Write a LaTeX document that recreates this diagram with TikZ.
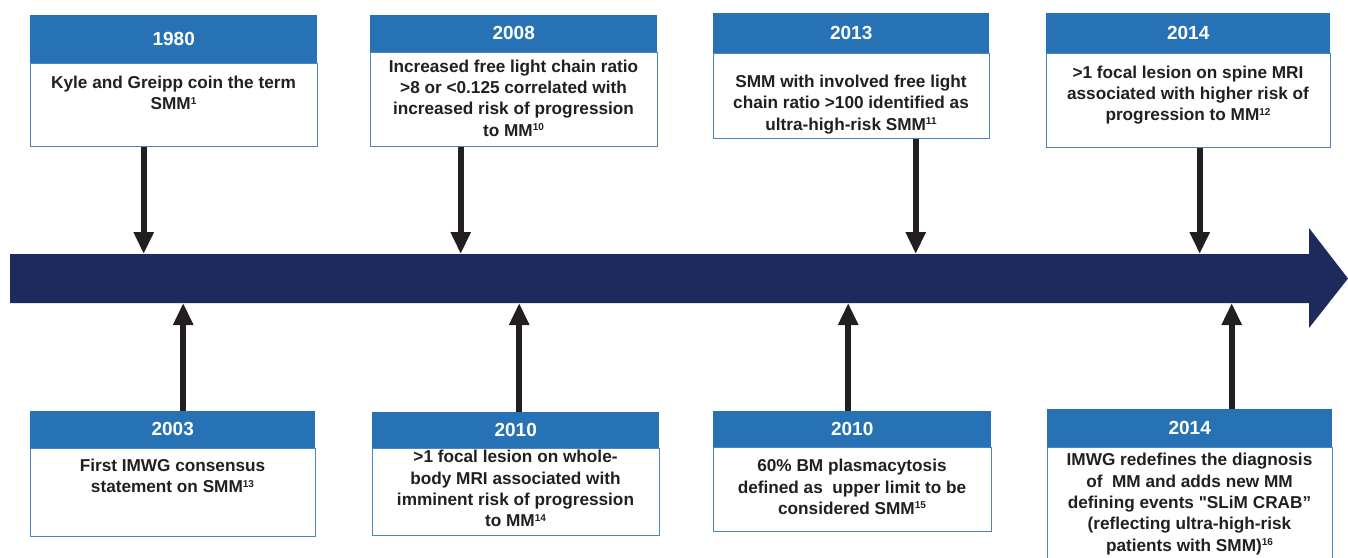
\documentclass[tikz,border=0pt]{standalone}
\usepackage{fontspec}
\setmainfont{Liberation Sans}
\usetikzlibrary{arrows.meta,positioning}
\newcommand{\yearfont}{\fontsize{19}{22}\selectfont\bfseries}
\newcommand{\bodyfont}{\fontsize{17.2}{21.3}\selectfont\bfseries}
\newcommand{\sref}[1]{\raisebox{5.5pt}{\fontsize{10}{10}\selectfont #1}}

\begin{document}
\begin{tikzpicture}[x=1pt, y=-1pt,
    head/.style={fill=hdr, text=white, font=\yearfont, inner sep=0pt, anchor=south west},
    body/.style={draw=edge, line width=1.4pt, fill=white, inner sep=0pt, anchor=north west},
    txt/.style={align=center, font=\bodyfont, text=ink, inner sep=0pt},
    arr/.style={-{Triangle[length=22pt, width=19pt]}, line width=6pt, ink},
  ]
    \definecolor{hdr}{HTML}{2672B5}
    \definecolor{edge}{HTML}{4A84C4}
    \definecolor{bar}{HTML}{1F2A5C}
    \definecolor{ink}{HTML}{231F20}

    \clip (0,0) rectangle (1348,557);

    % timeline
    \fill[bar] (10,254) -- (1309,254) -- (1309,228) -- (1348,278.5)
               -- (1309,328) -- (1309,303) -- (10,303) -- cycle;
    \coordinate (bartop) at (0,254);
    \coordinate (barbot) at (0,303);

    % events above the line
    \node[body, minimum width=287, minimum height=83] (b1980) at (30,63) {};
    \node[head, minimum width=287, minimum height=48] (h1980) at (b1980.north west) {1980};
    \node[txt] (t1980) at (173.5,93) {Kyle and Greipp coin the term\\SMM\sref{1}};

    \node[body, minimum width=287, minimum height=94] (b2008) at (370,52) {};
    \node[head, minimum width=287, minimum height=37] (h2008) at (b2008.north west) {2008};
    \node[txt] (t2008) at (513.5,98) {Increased free light chain ratio\\>8 or <0.125 correlated with\\increased risk of progression\\to MM\sref{10}};

    \node[body, minimum width=276, minimum height=85] (b2013) at (713,53) {};
    \node[head, minimum width=276, minimum height=40] (h2013) at (b2013.north west) {2013};
    \node[txt] (t2013) at (851,104.5) {SMM with involved free light\\chain ratio >100 identified as\\ultra-high-risk SMM\sref{11}};

    \node[body, minimum width=284, minimum height=94] (b2014a) at (1046,53) {};
    \node[head, minimum width=284, minimum height=40] (h2014a) at (b2014a.north west) {2014};
    \node[txt] (t2014a) at (1188,95) {>1 focal lesion on spine MRI\\associated with higher risk of\\progression to MM\sref{12}};

    % events below the line
    \node[body, minimum width=285, minimum height=88] (b2003) at (30,448) {};
    \node[head, minimum width=285, minimum height=37] (h2003) at (b2003.north west) {2003};
    \node[txt] (t2003) at (172.5,476) {First IMWG consensus\\statement on SMM\sref{13}};

    \node[body, minimum width=287, minimum height=87] (b2010a) at (372,448) {};
    \node[head, minimum width=287, minimum height=36] (h2010a) at (b2010a.north west) {2010};
    \node[txt] (t2010a) at (515.5,488.5) {>1 focal lesion on whole-\\body MRI associated with\\imminent risk of progression\\to MM\sref{14}};

    \node[body, minimum width=278, minimum height=84] (b2010b) at (713,447) {};
    \node[head, minimum width=278, minimum height=36] (h2010b) at (b2010b.north west) {2010};
    \node[txt] (t2010b) at (852,487) {60\% BM plasmacytosis\\defined as\ \ upper limit to be\\considered SMM\sref{15}};

    \node[body, minimum width=285, minimum height=130] (b2014b) at (1047,447) {};
    \node[head, minimum width=285, minimum height=38] (h2014b) at (b2014b.north west) {2014};
    \node[txt] (t2014b) at (1189.5,504) {IMWG redefines the diagnosis\\of\ \ MM and adds new MM\\defining events \textquotedbl SLiM CRAB”\\(reflecting ultra-high-risk\\patients with SMM)\sref{16}};

    % connectors to the line
    \draw[arr] ([xshift=-30.5]b1980.south) -- ([xshift=-30.5]b1980.south |- bartop);
    \draw[arr] ([xshift=-53.5]b2008.south) -- ([xshift=-53.5]b2008.south |- bartop);
    \draw[arr] ([xshift=64]b2013.south) -- ([xshift=64]b2013.south |- bartop);
    \draw[arr] ([xshift=11]b2014a.south) -- ([xshift=11]b2014a.south |- bartop);
    \draw[arr] ([xshift=10.5]h2003.north) -- ([xshift=10.5]h2003.north |- barbot);
    \draw[arr] ([xshift=3.5]h2010a.north) -- ([xshift=3.5]h2010a.north |- barbot);
    \draw[arr] ([xshift=-4]h2010b.north) -- ([xshift=-4]h2010b.north |- barbot);
    \draw[arr] ([xshift=42]h2014b.north) -- ([xshift=42]h2014b.north |- barbot);
  \end{tikzpicture}
\end{document}
